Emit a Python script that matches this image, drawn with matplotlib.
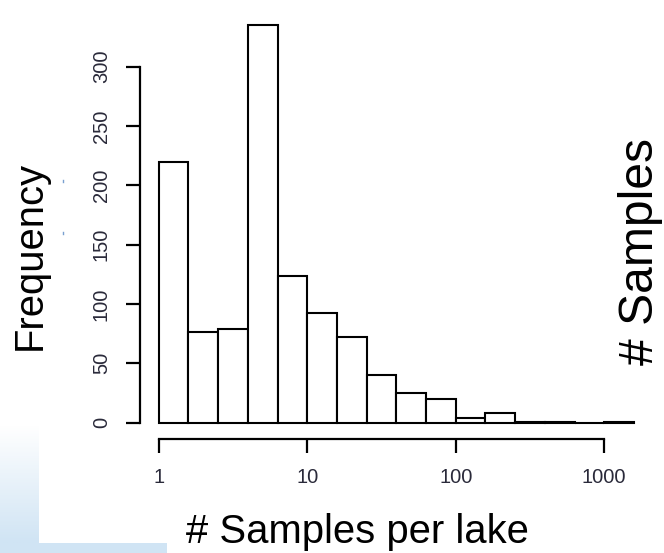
import numpy as np
import matplotlib
matplotlib.use("Agg")
import matplotlib.pyplot as plt
from matplotlib.ticker import NullLocator, FixedLocator

plt.rcParams['font.family'] = ['Liberation Sans', 'DejaVu Sans']

# bins in log10 units (width 0.2 decade) and counts
bin_exponents = [0.0, 0.2, 0.4, 0.6, 0.8, 1.0, 1.2, 1.4, 1.6, 1.8,
                 2.0, 2.2, 2.4, 2.6, 2.8, 3.0, 3.2]
counts = [220, 76, 79, 335, 124, 92, 72, 40, 25, 20, 4, 8, 1, 1, 0, 1]

x_ticks = [1, 10, 100, 1000]
x_tick_labels = ["1", "10", "100", "1000"]
y_ticks = [0, 50, 100, 150, 200, 250, 300]

W, H = 664, 553
fig = plt.figure(figsize=(W / 100, H / 100), dpi=100)

# light blue slide background in the lower left corner
bg = fig.add_axes([0, 0, 1, 1], zorder=0)
bg.set_xlim(0, W)
bg.set_ylim(H, 0)
bg.axis("off")
grad = np.linspace(0, 1, 100).reshape(-1, 1)
cmap = matplotlib.colors.LinearSegmentedColormap.from_list("bgblue", ["#ffffff", "#d0e4f4"])
bg.imshow(grad, cmap=cmap, extent=[0, 39, 543, 425], aspect="auto")
bg.add_patch(plt.Rectangle((0, 543), 167, 10, color="#d0e4f4", lw=0))
# two tiny blue specks next to the y label
bg.plot([63, 63], [180, 181.5], color="#7aa0d0", lw=1)
bg.plot([63, 63], [232, 233.5], color="#7aa0d0", lw=1)

# plot region in pixels
left_px, right_px, top_px, bottom_px = 140, 650, 20, 439.3
ax = fig.add_axes([left_px / W, (H - bottom_px) / H,
                   (right_px - left_px) / W, (bottom_px - top_px) / H], zorder=1)
ax.patch.set_alpha(0)

edges = [10 ** e for e in bin_exponents]
lefts = edges[:-1]
widths = [edges[i + 1] - edges[i] for i in range(len(lefts))]
ax.bar(lefts, counts, width=widths, align="edge", facecolor="white",
       edgecolor="black", linewidth=1.5)

ax.set_xscale("log")
px_per_dec = 148.5
x0_px = 158.7
ax.set_xlim(10 ** ((left_px - x0_px) / px_per_dec), 10 ** ((right_px - x0_px) / px_per_dec))
px_per_unit = 1.187
y0_px = 422.7
ax.set_ylim((y0_px - bottom_px) / px_per_unit, (y0_px - top_px) / px_per_unit)

for s in ["top", "right"]:
    ax.spines[s].set_visible(False)
ax.spines["left"].set_bounds(0, 300)
ax.spines["bottom"].set_bounds(1, 1000)
ax.spines["left"].set_linewidth(1.6)
ax.spines["bottom"].set_linewidth(1.6)

ax.xaxis.set_major_locator(FixedLocator(x_ticks))
ax.xaxis.set_minor_locator(NullLocator())
ax.set_xticklabels(x_tick_labels)
ax.set_yticks(y_ticks)
ax.tick_params(axis="both", direction="out", length=10, width=1.6,
               labelsize=14.5, labelcolor="#2a2a3a", pad=11)
for lab in ax.get_yticklabels():
    lab.set_rotation(90)
    lab.set_va("center")

fig.text(29.5 / W, (H - 255) / H, "Frequency", rotation=90, ha="center",
         va="center", fontsize=28.8)
fig.text(357 / W, (H - 543) / H, "# Samples per lake", ha="center",
         va="baseline", fontsize=28.8)
# label of the neighbouring panel, hugging the right edge
fig.text(663 / W, (H - 251.5) / H, "# Samples", rotation=90, ha="right",
         va="center", fontsize=34.6)

fig.savefig("out.png", dpi=100)
